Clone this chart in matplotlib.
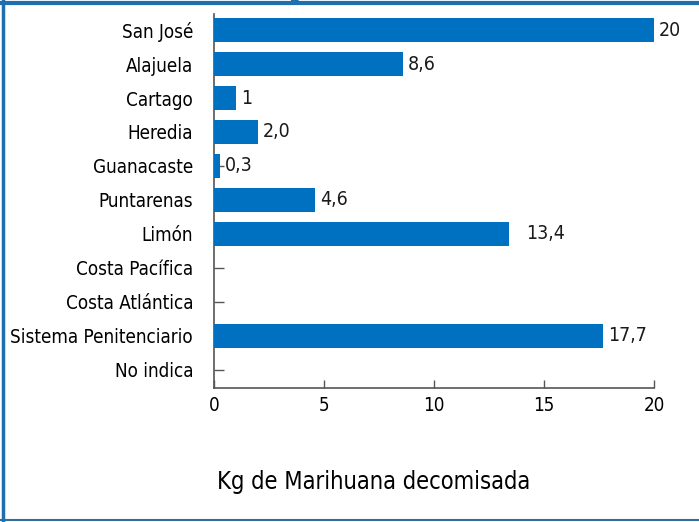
#!/usr/bin/env python3
"""Horizontal bar chart: kg of marijuana seized by province/region."""
import matplotlib
matplotlib.use("Agg")
import matplotlib.pyplot as plt
from matplotlib.lines import Line2D

# Data
regions = ["San José", "Alajuela", "Cartago", "Heredia", "Guanacaste",
           "Puntarenas", "Limón", "Costa Pacífica", "Costa Atlántica",
           "Sistema Penitenciario", "No indica"]
kg = [20, 8.6, 1, 2.0, 0.3, 4.6, 13.4, 0, 0, 17.7, 0]
value_labels = ["20", "8,6", "1", "2,0", "0,3", "4,6", "13,4", "", "", "17,7", ""]
x_ticks = [0, 5, 10, 15, 20]

plt.rcParams['font.family'] = ['DejaVu Sans']
plt.rcParams['font.stretch'] = 'condensed'

fig = plt.figure(figsize=(6.99, 5.22), dpi=100)
ax = fig.add_axes([0.306, 0.257, 0.6296, 0.716])

ypos = list(range(len(regions)))
ax.barh(ypos, kg, height=0.7, color="#0070C0", zorder=3)

# value labels next to the bars (Limón's label sits a bit further out)
for y, v, lab, name in zip(ypos, kg, value_labels, regions):
    if lab:
        gap = 0.8 if name == "Limón" else 0.22
        ax.text(v + gap, y, lab, va="center", ha="left", fontsize=14,
                color="#1a1a1a")

ax.set_yticks(ypos)
ax.set_yticklabels(regions, fontsize=13.5)
ax.set_ylim(10.53, -0.47)
ax.set_xlim(0, 20)
ax.set_xticks(x_ticks)
ax.set_xticklabels([str(t) for t in x_ticks], fontsize=13.5)

ax.tick_params(axis="y", direction="in", length=7.5, width=1.0,
               color="#555555", pad=15)
ax.tick_params(axis="x", direction="in", length=6, width=1.0,
               color="#555555", pad=6)

for s in ["top", "right"]:
    ax.spines[s].set_visible(False)
for s in ["left", "bottom"]:
    ax.spines[s].set_color("#555555")
    ax.spines[s].set_linewidth(1.2)

fig.text(0.534, 0.077, "Kg de Marihuana decomisada", ha="center",
         va="center", fontsize=17)

# cut-off title above the frame (only the descender of the "g" shows)
fig.text(0.421, 1.003, "g", ha="center", va="baseline", fontsize=14,
         fontweight="bold", color="#1F6FAF")

# frame around the figure (left, top, bottom)
fig.add_artist(Line2D([0.005, 0.005], [0, 1], color="#1F6FAF", lw=2.5))
fig.add_artist(Line2D([0, 1], [0.994, 0.994], color="#1F6FAF", lw=3))
fig.add_artist(Line2D([0, 1], [0.004, 0.004], color="#2E6FA0", lw=1.5))

fig.savefig("out.png", dpi=100)
